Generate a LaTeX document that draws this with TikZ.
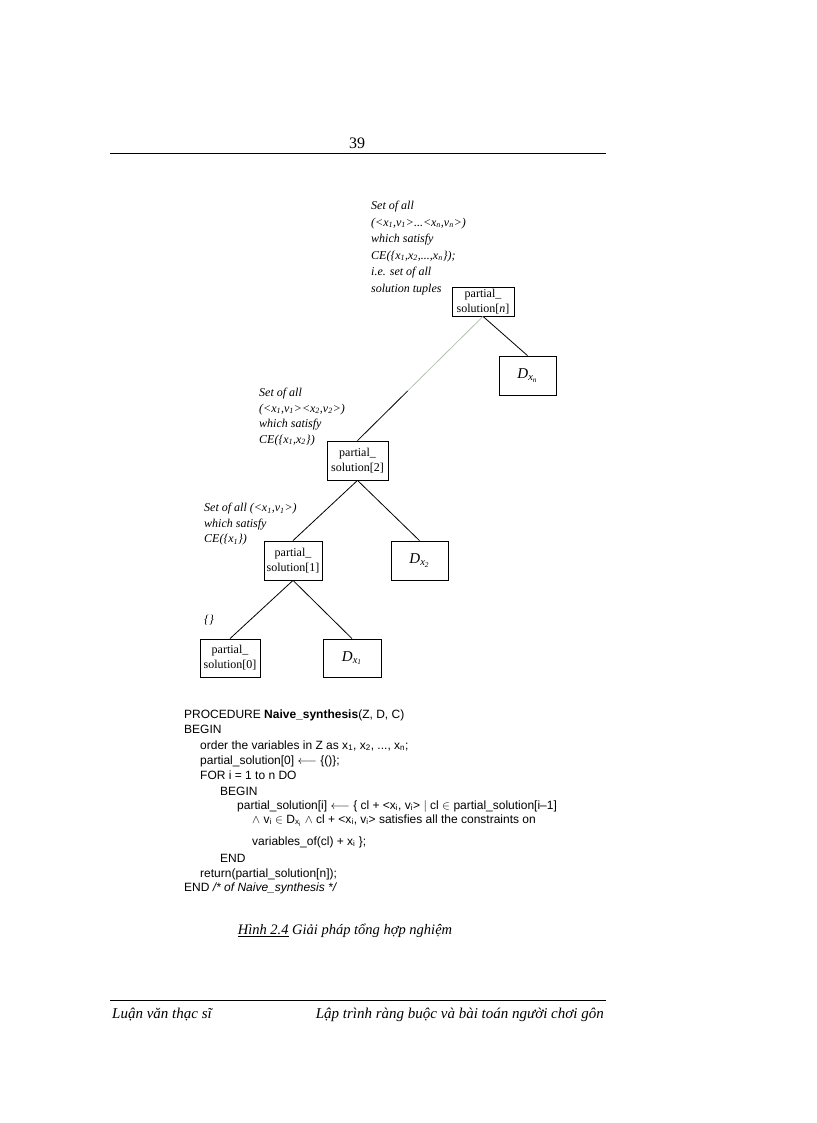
\documentclass[tikz,border=0pt]{standalone}
\usepackage{fontspec}
\setmainfont{Liberation Serif}
\newfontfamily\codefont{Liberation Sans}
\usetikzlibrary{calc}

\begin{document}
\begin{tikzpicture}[x=1pt,y=-1pt,
    psbox/.style={rectangle, draw, line width=0.8pt, minimum width=60pt, minimum height=39pt,
                  inner sep=1pt, align=center, font=\fontsize{12}{15}\selectfont},
    dombox/.style={rectangle, draw, line width=0.8pt, minimum width=57pt, minimum height=39pt,
                   font=\fontsize{15}{15}\selectfont\itshape},
    note/.style={anchor=north west, inner sep=0pt, align=left, font=\fontsize{12}{16.5}\selectfont\itshape},
    code/.style={anchor=base west, inner sep=0pt, font=\codefont\fontsize{12}{15}\selectfont},
    page/.style={inner sep=0pt, font=\fontsize{16}{19}\selectfont}
]
    \useasboundingbox (0,0) rectangle (816,1123);

    % Page header
    \node[page] (pnum) at (357,143) {39};
    \draw[line width=1pt] (110,154) coordinate (htop) -- (606,154) coordinate (htopr);

    % Tree of partial solutions
    \node[psbox, minimum width=62pt, minimum height=29pt] (psn) at (483,301.5) {partial\_\\solution[\textit{n}]};
    \node[dombox] (dn) at (527.5,375.5) {D\textsubscript{x\textsubscript{n}}};
    \node[psbox, minimum width=61pt] (ps2) at (357.5,460.5) {partial\_\\solution[2]};
    \node[psbox, minimum width=58pt] (ps1) at (293,560.5) {partial\_\\solution[1]};
    \node[dombox] (d2) at (419.5,560.5) {D\textsubscript{x\textsubscript{2}}};
    \node[psbox, minimum height=38pt] (ps0) at (230,658) {partial\_\\solution[0]};
    \node[dombox, minimum width=58pt, minimum height=38pt] (d1) at (352,658) {D\textsubscript{x\textsubscript{1}}};

    % Connectors
    \draw[line width=0.8pt] (psn.south) -- (dn.north);
    \coordinate (fade) at ($(ps2.north)!0.4!(psn.south)$);
    \draw[line width=0.8pt] (ps2.north) -- (fade);
    \draw[line width=0.8pt, draw=green!20!black!30] (fade) -- (psn.south);
    \draw[line width=0.8pt] (ps2.south) -- (ps1.north);
    \draw[line width=0.8pt] (ps2.south) -- (d2.north);
    \draw[line width=0.8pt] (ps1.south) -- (ps0.north);
    \draw[line width=0.8pt] (ps1.south) -- (d1.north);

    % Annotations
    \node[note] (notes n) at (371,201) {Set of all\\
        (<x\textsubscript{1},v\textsubscript{1}>...<x\textsubscript{n},v\textsubscript{n}>)\\
        which satisfy\\
        CE(\{x\textsubscript{1},x\textsubscript{2},...,x\textsubscript{n}\});\\
        i.e. set of all\\
        solution tuples};
    \node[note, font=\fontsize{12}{15.5}\selectfont\itshape] (notes 2) at (259,388) {Set of all\\
        (<x\textsubscript{1},v\textsubscript{1}><x\textsubscript{2},v\textsubscript{2}>)\\
        which satisfy\\
        CE(\{x\textsubscript{1},x\textsubscript{2}\})};
    \node[note, font=\fontsize{12}{15.5}\selectfont\itshape] (notes 1) at (204,503) {Set of all (<x\textsubscript{1},v\textsubscript{1}>)\\
        which satisfy\\
        CE(\{x\textsubscript{1}\})};
    \node[note] (notes 0) at (204,615) {\{\}};

    % Procedure
    \node[code] (code1) at (184,718) {PROCEDURE \textbf{Naive\_synthesis}(Z, D, C)};
    \node[code] (code2) at (184,733) {BEGIN};
    \node[code] (code3) at (200,749) {order the variables in Z as x\textsubscript{1}, x\textsubscript{2}, ..., x\textsubscript{n};};
    \node[code] (code4) at (200,764) {partial\_solution[0] $\longleftarrow$ \{()\};};
    \node[code] (code5) at (200,779) {FOR i = 1 to n DO};
    \node[code] (code6) at (220,795) {BEGIN};
    \node[code] (code7) at (237,809) {partial\_solution[i] $\longleftarrow$ \{ cl + <x\textsubscript{i}, v\textsubscript{i}> $\big|$ cl $\in$ partial\_solution[i–1]};
    \node[code] (code8) at (252,823) {$\wedge$ v\textsubscript{i} $\in$ D\textsubscript{x\textsubscript{i}} $\wedge$ cl + <x\textsubscript{i}, v\textsubscript{i}> satisfies all the constraints on};
    \node[code] (code9) at (252,845) {variables\_of(cl) + x\textsubscript{i} \};};
    \node[code] (code10) at (220,862) {END};
    \node[code] (code11) at (200,877) {return(partial\_solution[n]);};
    \node[code] (code12) at (184,891) {END \textit{/* of Naive\_synthesis */}};

    % Caption
    \node[page, font=\fontsize{14.5}{19}\selectfont\itshape] (caption) at (345,931) {\underline{Hình 2.4} Giải pháp tổng hợp nghiệm};

    % Page footer
    \draw[line width=1pt] (110,1000) coordinate (hbot) -- (606,1000) coordinate (hbotr);
    \node[page, anchor=base west, font=\fontsize{15}{19}\selectfont\itshape] (foot l) at (112,1018) {Luận văn thạc sĩ};
    \node[page, anchor=base east, font=\fontsize{15}{19}\selectfont\itshape] (foot r) at (604,1018) {Lập trình ràng buộc và bài toán người chơi gôn};
\end{tikzpicture}
\end{document}
